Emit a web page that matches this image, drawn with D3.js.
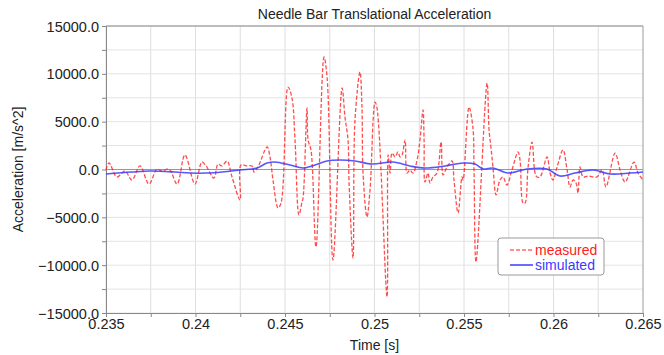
<!DOCTYPE html>
<html>
<head>
<meta charset="utf-8">
<script src="https://cdn.jsdelivr.net/npm/d3@7"></script>
<style>
  body { margin: 0; background: white; }
  svg { font-family: "Liberation Sans", Arial, sans-serif; }
</style>
</head>
<body>
<svg id="chart" width="664" height="355"></svg>
<script>
var width = 664;
var height = 355;

var title = "Needle Bar Translational Acceleration";
var xLabel = "Time [s]";
var yLabel = "Acceleration [m/s^2]";

var xTicks = [0.235, 0.24, 0.245, 0.25, 0.255, 0.26, 0.265];
var yTicks = [-15000, -10000, -5000, 0, 5000, 10000, 15000];

// measured signal (time, acceleration)
var measuredT = [0.2350, 0.23517, 0.23561, 0.23606, 0.23645, 0.23690, 0.23740, 0.23785, 0.23813, 0.23852,
  0.23897, 0.23941, 0.23997, 0.24036, 0.24059, 0.24103, 0.24126, 0.24148, 0.24176, 0.24204,
  0.24249, 0.24254, 0.24288, 0.24316, 0.24327, 0.24349, 0.24400, 0.24416, 0.24433, 0.24461,
  0.24478, 0.24517, 0.24539, 0.24556, 0.24578, 0.24595, 0.24601, 0.24623, 0.24629, 0.24645,
  0.24673, 0.24718, 0.24735, 0.24768, 0.24819, 0.24835, 0.24852, 0.24858, 0.24880, 0.24891,
  0.24919, 0.24930, 0.24936, 0.24958, 0.24975, 0.25003, 0.25014, 0.25070, 0.25076, 0.25087,
  0.25098, 0.25115, 0.25131, 0.25143, 0.25154, 0.25171, 0.25182, 0.25198, 0.25215, 0.25238,
  0.25254, 0.25271, 0.25277, 0.25282, 0.25299, 0.25310, 0.25327, 0.25349, 0.25372, 0.25383,
  0.25405, 0.25433, 0.25444, 0.25467, 0.25489, 0.25495, 0.25528, 0.25550, 0.25556, 0.25567,
  0.25629, 0.25640, 0.25651, 0.25662, 0.25679, 0.25701, 0.25718, 0.25740, 0.25768, 0.25802,
  0.25813, 0.25830, 0.25841, 0.25858, 0.25880, 0.25897, 0.25908, 0.25925, 0.25964, 0.25981,
  0.25997, 0.26020, 0.26053, 0.26076, 0.26092, 0.26109, 0.26126, 0.26137, 0.26148, 0.26165,
  0.26193, 0.26243, 0.26271, 0.26293, 0.26344, 0.26372, 0.26400, 0.26450, 0.26472, 0.26500];
var measuredA = [-50, 680, -780, -160, -1100, 370, -1520, 50, -160, 50,
  -1520, 1520, -1520, 780, 370, -890, 570, 370, 890, -780,
  -3190, 470, 370, 370, -260, 260, 2350, 1310, -1100, -4020,
  -3500, 8620, 7470, 3080, -4750, -3400, -2980, 6430, 3080, 2040,
  -8100, 11760, 9670, -9460, 8520, 5490, 3080, -1410, -9250, 5170,
  10190, 6530, -370, -4960, -2140, 7050, 6430, -13320, 1520, -370,
  1720, 1310, 1830, 1310, 1520, 3080, -370, -50, -370, 990,
  3080, 6220, 3080, -1310, -370, -1410, -780, -370, 2870, -570,
  260, 900, -1100, -4550, -780, -1100, 6530, 4340, -50, -9670,
  9040, 4130, 2250, 260, -2660, -1100, -780, -1620, -50, 1830,
  990, -3500, -3500, 260, 2870, -370, -780, -780, 1310, -370,
  -1100, 260, 2040, -50, -1830, -1100, -1410, -2460, 260, -780,
  -680, -780, -50, -1830, 1720, -50, -1310, 780, -370, -1100];

// simulated signal
var simulatedT = [0.2350, 0.23645, 0.23746, 0.23885, 0.23969, 0.24064, 0.24148, 0.24249, 0.24344, 0.24400,
  0.24444, 0.24528, 0.24601, 0.24668, 0.24735, 0.24807, 0.24891, 0.24986, 0.25103, 0.25198,
  0.25282, 0.25394, 0.25495, 0.25562, 0.25607, 0.25662, 0.25746, 0.25852, 0.25964, 0.26036,
  0.26120, 0.26221, 0.26316, 0.26428, 0.26500];
var simulatedA = [-470, -260, -160, -260, -370, -370, -260, -50, 160, 680,
  780, 470, 160, 470, 890, 990, 890, 570, 780, 370,
  160, 370, 680, 570, 50, 160, -370, 50, 50, -680,
  -370, -50, -470, -370, -260];

var seriesNames = ["measured", "simulated"];

var margin = { top: 26, right: 21, bottom: 42, left: 106 };
var iw = width - margin.left - margin.right;
var ih = height - margin.top - margin.bottom;

var x = d3.scaleLinear().domain([0.235, 0.265]).range([0, iw]);
var y = d3.scaleLinear().domain([-15000, 15000]).range([ih, 0]);

var svg = d3.select("#chart");

svg.append("text")
    .attr("x", margin.left + iw / 2)
    .attr("y", 19)
    .attr("text-anchor", "middle")
    .attr("font-size", 14)
    .attr("fill", "#222")
    .text(title);

var g = svg.append("g").attr("transform", `translate(${margin.left},${margin.top})`);

var xMinor = d3.range(0, 13).map(i => 0.235 + i * 0.0025);
var yMinor = d3.range(0, 13).map(i => -15000 + i * 2500);

// grid
g.append("g")
    .selectAll("line")
    .data(xMinor)
    .join("line")
    .attr("x1", d => x(d)).attr("x2", d => x(d))
    .attr("y1", 0).attr("y2", ih)
    .attr("stroke", "#dedede");

g.append("g")
    .selectAll("line")
    .data(yMinor)
    .join("line")
    .attr("x1", 0).attr("x2", iw)
    .attr("y1", d => y(d)).attr("y2", d => y(d))
    .attr("stroke", "#e4e4e4");

g.append("line")
    .attr("x1", 0).attr("x2", iw)
    .attr("y1", y(0)).attr("y2", y(0))
    .attr("stroke", "#999");

// frame top/right
g.append("line").attr("x1", 0).attr("x2", iw).attr("y1", 0).attr("y2", 0).attr("stroke", "#888");
g.append("line").attr("x1", iw).attr("x2", iw).attr("y1", 0).attr("y2", ih).attr("stroke", "#aaa");

// axes
var yAxis = g.append("g")
    .call(d3.axisLeft(y).tickValues(yMinor).tickSize(4).tickFormat(d => yTicks.includes(d) ? d3.format(".1f")(d) : ""));
var xAxis = g.append("g")
    .attr("transform", `translate(0,${ih})`)
    .call(d3.axisBottom(x).tickValues(xMinor).tickSize(4).tickFormat(d => {
        var m = xTicks.find(t => Math.abs(t - d) < 1e-9);
        return m === undefined ? "" : String(m);
    }));

[xAxis, yAxis].forEach(a => {
    a.select(".domain").attr("stroke", "#888");
    a.selectAll(".tick line").attr("stroke", "#888");
    a.selectAll(".tick text")
        .attr("fill", "#222")
        .attr("font-size", 14.5)
        .attr("font-family", "Liberation Sans, Arial, sans-serif");
});
yAxis.selectAll(".tick text").attr("x", -7).attr("dy", "0.35em");
xAxis.selectAll(".tick text").attr("y", 6);

svg.append("text")
    .attr("x", margin.left + iw / 2)
    .attr("y", 350)
    .attr("text-anchor", "middle")
    .attr("font-size", 14)
    .attr("fill", "#222")
    .text(xLabel);

svg.append("text")
    .attr("transform", `translate(23,${margin.top + ih / 2}) rotate(-90)`)
    .attr("text-anchor", "middle")
    .attr("font-size", 14)
    .attr("fill", "#222")
    .text(yLabel);

var line = d3.line()
    .x(d => x(d[0]))
    .y(d => y(d[1]))
    .curve(d3.curveCatmullRom.alpha(0.5));

var measured = measuredT.map((t, i) => [t, measuredA[i]]);
var simulated = simulatedT.map((t, i) => [t, simulatedA[i]]);

g.append("path")
    .datum(measured)
    .attr("fill", "none")
    .attr("stroke", "#ff2020")
    .attr("stroke-opacity", 0.8)
    .attr("stroke-width", 1.3)
    .attr("stroke-dasharray", "4,2")
    .attr("d", line);

g.append("path")
    .datum(simulated)
    .attr("fill", "none")
    .attr("stroke", "#3a3aff")
    .attr("stroke-opacity", 0.85)
    .attr("stroke-width", 1.6)
    .attr("d", line);

// legend
var lg = svg.append("g").attr("transform", "translate(498,238)");
lg.append("rect")
    .attr("width", 106).attr("height", 37)
    .attr("rx", 3)
    .attr("fill", "white")
    .attr("stroke", "#999");
var colors = ["#ff2020", "#3a3aff"];
seriesNames.forEach((name, i) => {
    var yy = 12 + i * 15;
    lg.append("line")
        .attr("x1", 12).attr("x2", 35)
        .attr("y1", yy).attr("y2", yy)
        .attr("stroke", colors[i])
        .attr("stroke-width", i ? 1.5 : 1.2)
        .attr("stroke-dasharray", i ? null : "4,2");
    lg.append("text")
        .attr("x", 37).attr("y", yy + 5)
        .attr("font-size", 14)
        .attr("fill", colors[i])
        .text(name);
});
</script>
</body>
</html>
